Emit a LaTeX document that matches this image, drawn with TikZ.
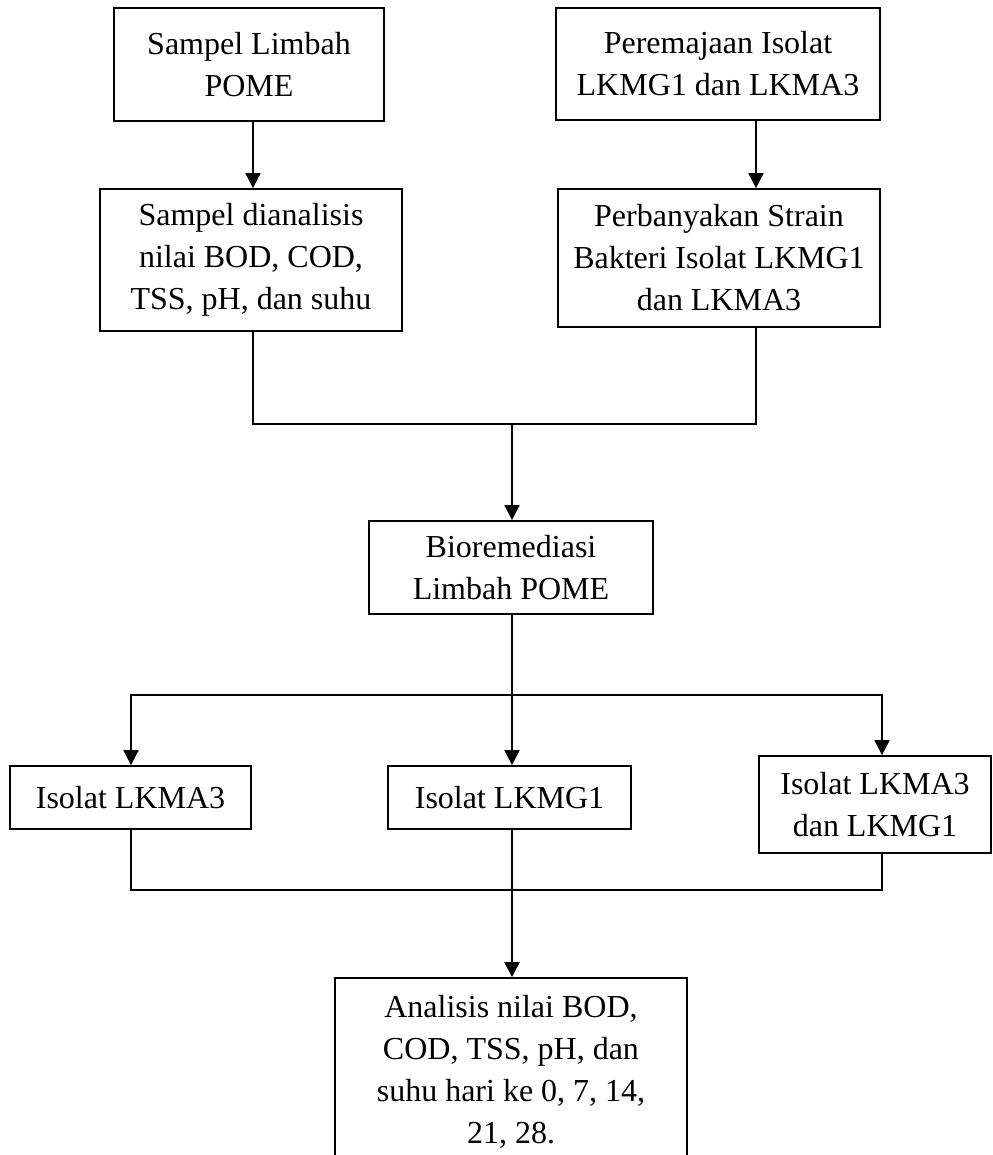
\documentclass[tikz,border=0pt]{standalone}
\usepackage{fontspec}
\setmainfont{Liberation Serif}
\usetikzlibrary{arrows.meta}
\begin{document}
\begin{tikzpicture}[x=1pt,y=-1pt,
  box/.style={draw,line width=1.8pt,align=center,inner sep=0pt,
    font=\fontsize{32}{42}\selectfont},
  ln/.style={line width=2pt},
  arr/.style={line width=2pt,-{Triangle[length=15pt,width=15pt]}}]
\useasboundingbox (0,0) rectangle (992,1155);
\clip (0,0) rectangle (992,1155);
\fill[white] (0,0) rectangle (992,1155);
\node[box,minimum width=270pt,minimum height=113pt] (b1) at (249,64.5) {Sampel Limbah\\POME};
\node[box,minimum width=302pt,minimum height=142pt] (b2) at (251,260) {Sampel dianalisis\\nilai BOD, COD,\\TSS, pH, dan suhu};
\node[box,minimum width=324pt,minimum height=112pt] (b3) at (718,64) {Peremajaan Isolat\\LKMG1 dan LKMA3};
\node[box,minimum width=322pt,minimum height=138pt] (b4) at (719,258) {Perbanyakan Strain\\Bakteri Isolat LKMG1\\dan LKMA3};
\node[box,minimum width=284pt,minimum height=93pt] (bio) at (511,567.5) {Bioremediasi\\Limbah POME};
\node[box,minimum width=241pt,minimum height=63pt] (l) at (130.5,797.5) {Isolat LKMA3};
\node[box,minimum width=243pt,minimum height=63pt] (m) at (509.5,797.5) {Isolat LKMG1};
\node[box,minimum width=232pt,minimum height=97pt] (r) at (875,804.5) {Isolat LKMA3\\dan LKMG1};
\node[box,minimum width=352pt,minimum height=187pt] (an) at (511,1071.5) {Analisis nilai BOD,\\COD, TSS, pH, dan\\suhu hari ke 0, 7, 14,\\21, 28.};
\coordinate (c1) at (253,0);
\coordinate (c2) at (756,0);
\coordinate (j1) at (512,424);
\coordinate (j2) at (512,695);
\coordinate (j3) at (512,890);
\coordinate (cl) at (131,0);
\coordinate (cr) at (882,0);
% top arrows
\draw[arr] (b1.south -| c1) -- (b2.north -| c1);
\draw[arr] (b3.south -| c2) -- (b4.north -| c2);
% merge
\draw[ln] (b2.south -| c1) |- (j1 -| c2) -- (b4.south -| c2);
\draw[arr] (j1) -- (bio.north -| j1);
% split
\draw[ln] (bio.south -| j2) -- (j2);
\draw[arr] (j2) -| (l.north -| cl);
\draw[arr] (j2) -| (r.north -| cr);
\draw[arr] (j2) -- (m.north -| j2);
% merge bottom
\draw[ln] (l.south -| cl) |- (j3);
\draw[ln] (r.south -| cr) |- (j3);
\draw[arr] (m.south -| j3) -- (an.north -| j3);
\end{tikzpicture}
\end{document}
